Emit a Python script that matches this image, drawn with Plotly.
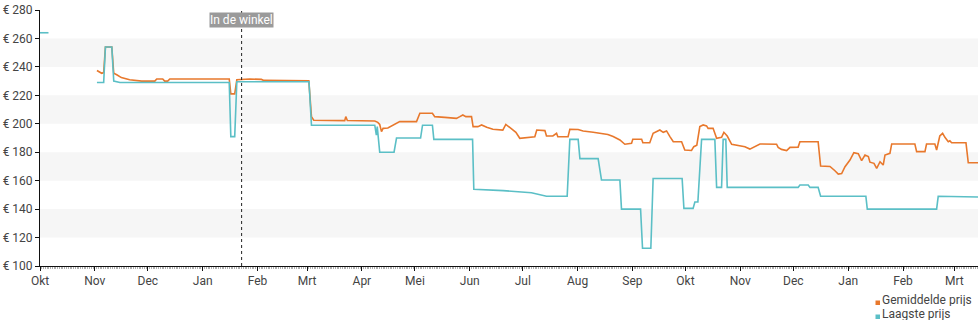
import numpy as np
import pandas as pd
import plotly.graph_objects as go

# Price history: day offsets from START and prices in euro
START = pd.Timestamp("2022-10-01")
END_DAY = 530.4

avg_day = [32.2, 33.8, 34.9, 36.0, 37.0, 40.6, 41.7, 43.4, 46.0, 50.7, 57.5, 64.9, 66.0, 69.4, 70.5,
           72.2, 73.4, 107.0, 107.9, 110.1, 111.3, 118.6, 125.2, 126.5, 152.0, 153.5, 154.8, 172.3,
           172.9, 173.8, 189.3, 191.0, 192.1, 193.1, 194.0, 196.7, 201.6, 203.4, 212.9, 214.8, 221.9,
           223.2, 228.9, 235.5, 237.4, 239.1, 240.8, 244.0, 244.9, 247.6, 249.7, 252.6, 256.1, 261.7,
           263.4, 265.7, 267.4, 269.1, 271.3, 275.1, 279.8, 280.9, 285.5, 286.4, 290.0, 292.1, 292.8,
           298.6, 299.6, 304.3, 307.1, 312.8, 318.4, 321.1, 324.1, 327.9, 330.7, 334.5, 335.2, 340.2,
           340.9, 344.8, 346.7, 348.6, 350.5, 352.4, 354.3, 356.2, 358.1, 362.8, 364.6, 368.4, 369.7,
           371.4, 373.1, 375.0, 376.9, 377.8, 380.6, 382.6, 385.4, 386.7, 388.6, 391.1, 394.8, 398.6,
           401.4, 405.2, 407.1, 416.5, 417.4, 419.3, 422.2, 424.1, 428.7, 429.7, 440.0, 441.4, 446.7,
           449.5, 451.4, 453.3, 455.2, 458.0, 460.2, 462.7, 464.6, 466.5, 468.4, 469.3, 471.6, 473.1,
           475.0, 476.8, 477.8, 480.6, 481.6, 494.7, 495.7, 500.4, 501.3, 506.0, 507.0, 508.8, 510.4,
           511.7, 513.6, 514.5, 515.5, 523.6, 524.9, 530.4]
avg_price = [237.5, 236.0, 235.5, 236.0, 254.0, 254.0, 235.5, 234.5, 232.5, 231.0, 230.0, 230.0, 231.5,
             231.5, 230.0, 230.0, 231.5, 231.5, 221.0, 221.0, 231.0, 231.5, 231.2, 230.5, 230.3, 205.0,
             202.5, 202.2, 205.0, 202.3, 202.0, 201.0, 199.5, 194.5, 196.8, 197.0, 200.4, 201.5, 201.5,
             207.4, 207.4, 205.0, 204.5, 203.8, 205.0, 206.2, 205.0, 205.0, 198.0, 198.0, 199.2, 197.5,
             196.2, 195.6, 199.6, 197.5, 196.1, 194.0, 189.8, 190.5, 190.9, 195.6, 195.2, 191.4, 191.4,
             193.3, 190.9, 190.9, 196.1, 196.0, 194.9, 194.0, 193.3, 192.5, 191.0, 188.6, 185.6, 186.3,
             189.1, 189.1, 186.7, 186.7, 193.3, 194.5, 195.6, 194.0, 195.0, 191.0, 187.4, 187.4, 181.6,
             181.2, 183.9, 185.0, 198.0, 199.2, 198.5, 196.8, 196.8, 189.8, 190.5, 194.0, 191.4, 185.6,
             184.6, 183.9, 182.2, 184.6, 185.8, 185.6, 183.4, 182.0, 181.2, 183.4, 183.6, 187.4, 187.4,
             170.3, 170.0, 167.0, 164.6, 165.0, 169.8, 174.5, 179.7, 179.0, 174.1, 178.0, 177.0, 173.0,
             172.2, 168.7, 173.3, 171.0, 178.0, 179.2, 185.8, 185.8, 180.4, 180.4, 185.8, 185.8, 181.6,
             191.4, 193.3, 190.5, 187.4, 188.0, 186.7, 186.7, 172.6, 172.6]

low_day = [0.0, 4.8, 18.0, 32.2, 36.0, 37.0, 40.6, 41.7, 45.2, 107.0, 107.9, 110.1, 111.3, 152.1, 153.5,
           189.3, 190.2, 190.7, 192.1, 200.2, 201.6, 215.2, 216.3, 221.9, 222.7, 244.6, 245.3, 261.9,
           277.9, 286.4, 298.1, 299.6, 304.3, 305.3, 315.6, 317.5, 327.9, 328.8, 339.6, 340.7, 345.4,
           346.7, 363.1, 364.1, 369.3, 370.3, 372.0, 374.1, 381.6, 382.6, 385.4, 386.3, 387.8, 388.6,
           428.7, 429.7, 434.4, 435.4, 440.0, 441.4, 467.0, 467.8, 507.0, 507.9, 524.0, 530.4]
low_price = [264.0, 264.0, None, 229.0, 229.0, 254.0, 254.0, 230.0, 229.0, 229.0, 191.0, 191.0, 229.5,
             229.5, 199.0, 199.0, 192.0, 198.0, 180.0, 180.0, 190.0, 190.0, 199.0, 199.0, 189.0, 189.0,
             154.0, 153.0, 151.5, 149.0, 149.0, 189.0, 189.0, 175.5, 175.5, 160.5, 160.5, 140.0, 140.0,
             112.5, 112.5, 161.5, 161.5, 140.5, 140.5, 145.0, 145.0, 189.0, 189.0, 155.3, 155.3, 189.0,
             189.0, 155.3, 155.3, 157.0, 157.0, 155.3, 155.3, 149.0, 149.0, 140.0, 140.0, 149.0, 148.7,
             148.5]

month_labels = ["Okt", "Nov", "Dec", "Jan", "Feb", "Mrt", "Apr", "Mei", "Jun",
                "Jul", "Aug", "Sep", "Okt", "Nov", "Dec", "Jan", "Feb", "Mrt"]
price_ticks = list(range(100, 281, 20))
shaded_bands = [(120, 140), (160, 180), (200, 220), (240, 260)]
store_day = 114
series_names = ["Gemiddelde prijs", "Laagste prijs"]

ORANGE = "#e8782c"
TEAL = "#5bbfc6"
TEXT = "#444444"
W, H = 980, 325
ML, MR, MT, MB = 40, 2, 10, 59
PW, PH = W - ML - MR, H - MT - MB


def to_dates(days):
    return START + pd.to_timedelta(np.asarray(days, dtype=float), unit="D")


def px_x(px):
    return (px - ML) / PW


def px_y(py):
    return (H - MB - py) / PH


month_starts = pd.date_range(START, periods=len(month_labels), freq="MS")

fig = go.Figure()
fig.add_trace(go.Scatter(x=to_dates(avg_day), y=avg_price, mode="lines",
                         line=dict(color=ORANGE, width=1.6), name=series_names[0],
                         showlegend=False, hoverinfo="skip"))
fig.add_trace(go.Scatter(x=to_dates(low_day), y=low_price, mode="lines",
                         line=dict(color=TEAL, width=1.6), name=series_names[1],
                         showlegend=False, connectgaps=False, hoverinfo="skip"))

shapes = []
for lo, hi in shaded_bands:
    shapes.append(dict(type="rect", xref="paper", yref="y", x0=0, x1=1, y0=lo, y1=hi,
                       fillcolor="#f6f6f6", line=dict(width=0), layer="below"))

store_date = to_dates([store_day])[0]
shapes.append(dict(type="line", xref="x", yref="paper", x0=store_date, x1=store_date,
                   y0=0, y1=1, line=dict(color="#222222", width=1, dash="dot")))

annotations = [dict(x=store_date, xref="x", y=px_y(20), yref="paper", text="In de winkel",
                    showarrow=False, font=dict(family="Roboto", size=12, color="white"),
                    bgcolor="#9a9a9a", borderpad=0, xanchor="center", yanchor="middle")]

# Legend drawn as coloured squares with labels, bottom right
for i, (name, col) in enumerate(zip(series_names, [ORANGE, TEAL])):
    cy = 299 + 14 * i
    annotations.append(dict(x=px_x(881), xref="paper", y=px_y(cy), yref="paper", text=name,
                            showarrow=False, xanchor="left", yanchor="middle",
                            height=13, borderpad=0,
                            font=dict(family="Roboto", size=12, color=TEXT)))
    shapes.append(dict(type="rect", xref="paper", yref="paper",
                       x0=px_x(875.5), x1=px_x(880), y0=px_y(cy + 6), y1=px_y(cy + 1.5),
                       fillcolor=col, line=dict(width=0)))

fig.update_layout(
    width=W, height=H, margin=dict(l=ML, r=MR, t=MT, b=MB),
    paper_bgcolor="white", plot_bgcolor="white",
    font=dict(family="Roboto", size=12, color=TEXT),
    shapes=shapes, annotations=annotations, showlegend=False,
    xaxis=dict(type="date", range=[START, START + pd.Timedelta(days=END_DAY)],
               tickmode="array", tickvals=month_starts, ticktext=month_labels,
               showgrid=False, zeroline=False, showline=True, linecolor="#111111", linewidth=1,
               ticks="outside", ticklen=4, tickcolor="#111111",
               minor=dict(tickmode="linear", tick0=START, dtick=86400000, ticks="outside",
                          ticklen=2, tickcolor="#b0b0b0", showgrid=False),
               tickfont=dict(family="Roboto", size=12, color=TEXT), fixedrange=True),
    yaxis=dict(range=[100, 280], tickmode="array", tickvals=price_ticks,
               ticktext=[f"€ {v}" for v in price_ticks],
               showgrid=False, zeroline=False, showline=True, linecolor="#111111", linewidth=1,
               ticks="outside", ticklen=4, tickcolor="#111111",
               tickfont=dict(family="Roboto", size=12, color=TEXT), fixedrange=True),
)

fig.write_html("out.html")
